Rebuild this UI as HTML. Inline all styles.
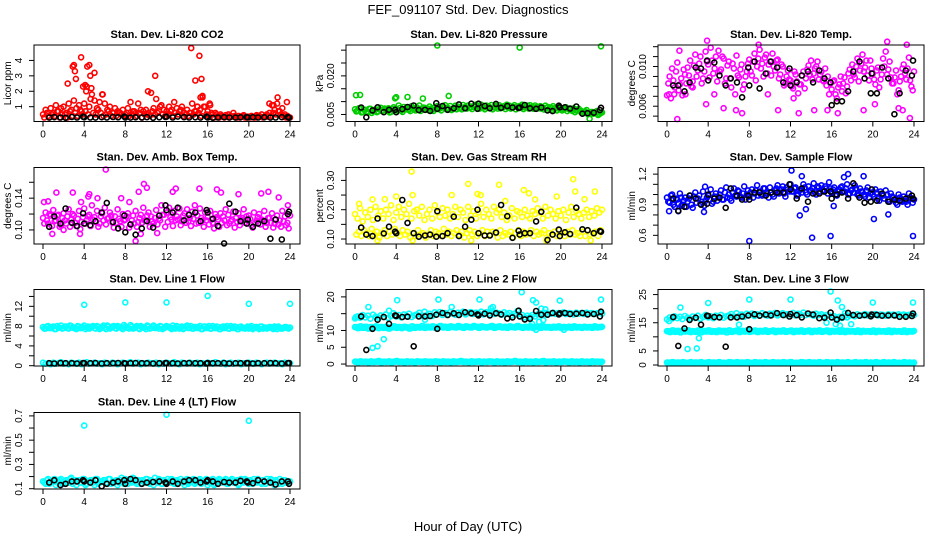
<!DOCTYPE html>
<html><head><meta charset="utf-8"><title>FEF_091107 Std. Dev. Diagnostics</title>
<style>
html,body{margin:0;padding:0;background:#fff;}
svg{display:block;font-family:"Liberation Sans",Arial,sans-serif;}
</style></head>
<body>
<svg id="chart" width="936" height="540" viewBox="0 0 936 540" xmlns="http://www.w3.org/2000/svg">
<rect x="0" y="0" width="936" height="540" fill="#fff"/>
<text x="468" y="14" text-anchor="middle" font-size="13">FEF_091107  Std. Dev. Diagnostics</text>
<text x="468" y="531" text-anchor="middle" font-size="13">Hour of Day (UTC)</text>
<g id="panels"></g>
</svg>
<script>
// ---------- shared time grids ----------
const gridA = [0,0.25,0.5,0.75,1,1.25,1.5,1.75,2,2.25,2.5,2.75,3,3.25,3.5,3.75,4,4.25,4.5,4.75,5,5.25,5.5,5.75,6,6.25,6.5,6.75,7,7.25,7.5,7.75,8,8.25,8.5,8.75,9,9.25,9.5,9.75,10,10.25,10.5,10.75,11,11.25,11.5,11.75,12,12.25,12.5,12.75,13,13.25,13.5,13.75,14,14.25,14.5,14.75,15,15.25,15.5,15.75,16,16.25,16.5,16.75,17,17.25,17.5,17.75,18,18.25,18.5,18.75,19,19.25,19.5,19.75,20,20.25,20.5,20.75,21,21.25,21.5,21.75,22,22.25,22.5,22.75,23,23.25,23.5,23.75,24];
const gridB = [0.125,0.375,0.625,0.875,1.125,1.375,1.625,1.875,2.125,2.375,2.625,2.875,3.125,3.375,3.625,3.875,4.125,4.375,4.625,4.875,5.125,5.375,5.625,5.875,6.125,6.375,6.625,6.875,7.125,7.375,7.625,7.875,8.125,8.375,8.625,8.875,9.125,9.375,9.625,9.875,10.125,10.375,10.625,10.875,11.125,11.375,11.625,11.875,12.125,12.375,12.625,12.875,13.125,13.375,13.625,13.875,14.125,14.375,14.625,14.875,15.125,15.375,15.625,15.875,16.125,16.375,16.625,16.875,17.125,17.375,17.625,17.875,18.125,18.375,18.625,18.875,19.125,19.375,19.625,19.875,20.125,20.375,20.625,20.875,21.125,21.375,21.625,21.875,22.125,22.375,22.625,22.875,23.125,23.375,23.625,23.875];
const blackHours = [0.6,1.1,1.7,2.2,2.8,3.3,3.9,4.0,4.6,5.1,5.7,6.2,6.8,7.3,7.9,8.0,8.5,9.0,9.6,10.1,10.7,11.3,11.9,12.0,12.6,13.1,13.7,14.2,14.8,15.3,15.9,16.0,16.5,17.0,17.6,18.1,18.7,19.2,19.8,19.9,20.4,20.9,21.5,22.1,22.6,23.2,23.8,23.9];
const xTicks = [0,4,8,12,16,20,24];

// ---------- CO2 ----------
const co2A = [0.5,0.8,0.4,0.9,0.6,1.1,0.7,0.9,1.0,0.6,1.2,0.8,1.4,0.9,1.1,0.7,1.2,2.3,1.0,1.8,1.4,0.9,1.3,1.8,1.2,0.8,1.0,0.6,0.9,0.7,0.6,0.8,0.5,0.9,1.3,0.7,0.6,1.2,0.8,0.7,0.8,0.6,1.9,0.9,1.5,0.7,1.1,0.8,0.7,1.0,0.8,1.3,0.9,0.7,1.0,0.6,0.8,0.6,1.2,0.7,1.0,0.8,1.6,1.0,0.7,1.1,0.5,0.6,0.4,0.5,0.35,0.45,0.5,0.4,0.6,0.35,0.4,0.35,0.45,0.3,0.35,0.4,0.3,0.45,0.4,0.5,0.35,0.5,0.6,1.1,0.8,1.2,0.7,0.9,0.5,0.4,0.3];
const co2B = [0.3,0.6,0.3,0.5,0.4,0.7,0.3,0.5,0.5,0.3,0.7,0.4,0.6,0.4,0.8,0.5,0.7,0.5,1.5,0.6,0.5,0.8,0.6,0.4,0.5,0.7,0.4,0.6,0.4,0.6,0.5,0.4,0.6,0.4,0.5,0.7,0.4,0.6,0.3,0.5,0.5,0.4,0.7,0.5,0.6,1.0,0.5,0.4,0.5,0.7,0.4,0.6,0.5,0.8,0.4,0.5,0.4,0.6,0.5,0.7,0.6,0.4,1.0,0.5,0.4,0.6,0.3,0.5,0.3,0.4,0.3,0.35,0.3,0.35,0.4,0.3,0.3,0.4,0.3,0.35,0.3,0.35,0.3,0.4,0.35,0.3,0.4,0.35,0.4,0.6,0.5,0.7,0.5,0.4,0.3,0.3];
const co2OutH = [2.4,2.9,3.0,3.1,3.2,3.7,3.9,4.1,4.3,4.5,4.6,4.7,4.2,5.0,10.9,10.2,14.4,14.8,15.2,15.4,15.3,15.5,15.0,22.8,23.7,16.2,5.8,22.0,22.4];
const co2OutV = [2.5,3.6,3.7,3.3,2.8,4.2,2.3,2.4,3.6,3.7,3.0,2.2,2.0,3.2,3.0,2.0,4.8,2.7,4.3,2.8,1.6,1.7,1.0,1.6,1.3,1.2,1.8,1.2,1.1];
const co2Blk = [0.3,0.32,0.3,0.28,0.33,0.3,0.35,0.31,0.3,0.29,0.32,0.3,0.33,0.31,0.36,0.3,0.29,0.31,0.3,0.32,0.28,0.31,0.33,0.35,0.3,0.36,0.32,0.3,0.31,0.29,0.35,0.3,0.28,0.3,0.32,0.3,0.29,0.31,0.33,0.3,0.32,0.3,0.31,0.29,0.3,0.32,0.33,0.28];

// ---------- Pressure ----------
const presA = [0.007,0.0065,0.0075,0.006,0.0068,0.0058,0.0072,0.0063,0.007,0.0062,0.0076,0.0065,0.0069,0.0074,0.006,0.0078,0.0072,0.0085,0.0066,0.0079,0.0075,0.0068,0.0082,0.0071,0.0078,0.0085,0.0072,0.0076,0.0074,0.0081,0.0069,0.0077,0.0082,0.0073,0.0079,0.0086,0.0076,0.0083,0.0072,0.0084,0.0081,0.0076,0.0087,0.0079,0.0085,0.0078,0.0083,0.0088,0.0082,0.0088,0.0077,0.0085,0.0081,0.0087,0.0078,0.0084,0.0086,0.0079,0.0083,0.0088,0.0084,0.0077,0.0086,0.0081,0.0083,0.0088,0.0078,0.0084,0.0086,0.008,0.0085,0.0079,0.0082,0.0077,0.0084,0.0079,0.0077,0.0082,0.0073,0.0078,0.0075,0.007,0.0078,0.0072,0.007,0.0074,0.0066,0.0072,0.0064,0.0058,0.0067,0.0056,0.006,0.0054,0.0063,0.0052,0.0058];
const presB = [0.0062,0.0074,0.0058,0.0068,0.0061,0.0072,0.0056,0.0066,0.0059,0.007,0.0064,0.0073,0.0064,0.0058,0.0071,0.0066,0.0065,0.0075,0.006,0.007,0.0069,0.0063,0.0074,0.0066,0.007,0.0064,0.0077,0.0068,0.0067,0.0073,0.0064,0.0071,0.0071,0.0066,0.0078,0.007,0.0072,0.0067,0.0076,0.007,0.0074,0.007,0.0078,0.0073,0.0076,0.0071,0.0079,0.0074,0.0073,0.0079,0.007,0.0076,0.0075,0.007,0.0078,0.0073,0.0074,0.0078,0.0071,0.0077,0.0073,0.0079,0.007,0.0075,0.0076,0.0071,0.0078,0.0073,0.0077,0.0072,0.0079,0.0074,0.0073,0.0069,0.0076,0.0071,0.0068,0.0074,0.0066,0.0071,0.0066,0.0071,0.0063,0.0068,0.0064,0.0059,0.0067,0.0062,0.0055,0.0061,0.0052,0.0058,0.0053,0.0059,0.0048,0.0056];
const presOutH = [0.1,0.5,8.0,16.0,23.9,9.1,5.1,4.0,6.6,3.9,22.8];
const presOutV = [0.0125,0.0126,0.0318,0.031,0.0315,0.0122,0.0118,0.0117,0.0112,0.0113,0.0033];
const presBlk = [0.0077,0.0039,0.0066,0.0078,0.0059,0.0068,0.0068,0.0059,0.0071,0.0079,0.0085,0.0067,0.0068,0.0064,0.0094,0.0072,0.0083,0.0068,0.0074,0.0089,0.0074,0.0092,0.0072,0.0092,0.0083,0.0074,0.0091,0.0076,0.0083,0.0077,0.0075,0.0077,0.0087,0.0074,0.0072,0.0077,0.0066,0.0063,0.0084,0.0078,0.0078,0.0073,0.0081,0.0053,0.0055,0.0057,0.0067,0.0076];

// ---------- Li-820 Temp ----------
const tempA = [0.0071,0.0090,0.0098,0.0079,0.0104,0.0082,0.0071,0.0092,0.0099,0.0106,0.0085,0.0112,0.0096,0.0110,0.0088,0.0115,0.0102,0.0119,0.0093,0.0110,0.0116,0.0097,0.0108,0.0088,0.0105,0.0079,0.0098,0.0111,0.0089,0.0102,0.0082,0.0095,0.0107,0.0091,0.0113,0.0100,0.0117,0.0103,0.0109,0.0093,0.0105,0.0113,0.0096,0.0107,0.0092,0.0100,0.0083,0.0096,0.0086,0.0078,0.0092,0.0073,0.0082,0.0095,0.0088,0.0101,0.0106,0.0093,0.0100,0.0087,0.0095,0.0085,0.0081,0.0072,0.0077,0.0086,0.0068,0.0082,0.0075,0.0089,0.0080,0.0097,0.0102,0.0089,0.0108,0.0096,0.0112,0.0099,0.0091,0.0106,0.0093,0.0082,0.0099,0.0087,0.0108,0.0115,0.0097,0.0089,0.0083,0.0096,0.0076,0.0090,0.0102,0.0087,0.0109,0.0080,0.0095];
const tempB = [0.0083,0.0068,0.0086,0.0095,0.0076,0.0088,0.0097,0.0083,0.0091,0.0080,0.0101,0.0090,0.0103,0.0083,0.0095,0.0105,0.0089,0.0106,0.0098,0.0085,0.0095,0.0110,0.0083,0.0101,0.0088,0.0103,0.0072,0.0091,0.0097,0.0077,0.0090,0.0103,0.0095,0.0105,0.0086,0.0108,0.0098,0.0090,0.0112,0.0102,0.0091,0.0100,0.0106,0.0088,0.0102,0.0081,0.0090,0.0087,0.0080,0.0095,0.0085,0.0082,0.0091,0.0078,0.0097,0.0092,0.0087,0.0098,0.0105,0.0092,0.0086,0.0098,0.0090,0.0083,0.0085,0.0072,0.0079,0.0090,0.0083,0.0073,0.0093,0.0086,0.0092,0.0100,0.0085,0.0103,0.0095,0.0106,0.0086,0.0098,0.0087,0.0096,0.0079,0.0092,0.0100,0.0092,0.0105,0.0083,0.0089,0.0072,0.0085,0.0098,0.0093,0.0098,0.0086,0.0076];
const tempOutH = [0.2,0.7,1.0,1.2,1.8,2.5,3.8,4.6,5.5,6.7,7.3,9.8,10.8,12.3,12.8,14.3,15.6,16.6,19.1,20.2,21.4,22.5,22.9,23.3,23.6,3.9,8.9];
const tempOutV = [0.0072,0.0072,0.0047,0.0116,0.0072,0.0079,0.0062,0.0072,0.0058,0.0056,0.0053,0.0072,0.0056,0.0068,0.0053,0.0056,0.0056,0.0053,0.0056,0.0062,0.0125,0.0058,0.0056,0.0122,0.0048,0.0126,0.0122];
const tempBlk = [0.0081,0.0081,0.0075,0.0084,0.0099,0.0098,0.0106,0.0086,0.0104,0.0091,0.0081,0.0088,0.0084,0.0069,0.0099,0.0081,0.0105,0.0078,0.0093,0.0105,0.0099,0.0084,0.0098,0.0081,0.0084,0.0091,0.0095,0.0084,0.0096,0.0088,0.0084,0.0061,0.0065,0.0065,0.0075,0.0095,0.0105,0.0088,0.0073,0.0093,0.0073,0.0099,0.0088,0.0052,0.0073,0.0096,0.0091,0.0106];

// ---------- Amb. Box Temp ----------
const ambA = [0.115,0.122,0.108,0.118,0.125,0.112,0.119,0.106,0.121,0.108,0.126,0.113,0.118,0.105,0.124,0.11,0.127,0.112,0.119,0.131,0.116,0.124,0.108,0.121,0.128,0.114,0.122,0.109,0.117,0.126,0.111,0.12,0.113,0.121,0.107,0.118,0.124,0.11,0.119,0.128,0.112,0.122,0.117,0.108,0.125,0.114,0.131,0.119,0.122,0.128,0.113,0.124,0.117,0.127,0.111,0.121,0.126,0.115,0.123,0.131,0.118,0.127,0.112,0.122,0.116,0.124,0.109,0.12,0.113,0.121,0.117,0.126,0.119,0.111,0.123,0.115,0.121,0.113,0.126,0.117,0.118,0.106,0.122,0.112,0.12,0.113,0.124,0.109,0.115,0.121,0.108,0.118,0.112,0.124,0.117,0.109,0.118];
const ambB = [0.108,0.112,0.12,0.105,0.111,0.118,0.104,0.115,0.112,0.117,0.104,0.12,0.109,0.114,0.101,0.116,0.108,0.117,0.105,0.113,0.11,0.104,0.117,0.112,0.107,0.115,0.118,0.103,0.109,0.114,0.104,0.112,0.117,0.103,0.112,0.108,0.104,0.115,0.109,0.112,0.118,0.104,0.111,0.115,0.107,0.112,0.119,0.104,0.11,0.116,0.105,0.112,0.113,0.106,0.118,0.109,0.111,0.105,0.114,0.108,0.109,0.115,0.104,0.112,0.107,0.113,0.102,0.116,0.104,0.109,0.112,0.106,0.108,0.113,0.103,0.11,0.106,0.115,0.109,0.112,0.114,0.103,0.109,0.116,0.107,0.112,0.104,0.115,0.109,0.103,0.113,0.107,0.104,0.111,0.106,0.102];
const ambOutH = [0.1,0.5,1.3,2.9,3.7,4.5,4.4,5.3,0.9,3.6,7.6,8.4,9.3,9.8,10.1,12.9,12.6,15.2,16.9,17.3,19.0,21.2,21.9,22.9,23.8,6.1,9.0,2.0,11.1,9.5];
const ambOutV = [0.135,0.136,0.147,0.147,0.135,0.145,0.142,0.14,0.095,0.095,0.14,0.135,0.148,0.158,0.153,0.152,0.148,0.152,0.151,0.147,0.145,0.146,0.148,0.141,0.131,0.176,0.086,0.1,0.096,0.095];
const ambBlk = [0.104,0.117,0.108,0.127,0.109,0.105,0.121,0.108,0.106,0.111,0.122,0.134,0.11,0.102,0.118,0.097,0.107,0.094,0.102,0.111,0.103,0.118,0.131,0.125,0.122,0.128,0.112,0.119,0.122,0.111,0.125,0.122,0.114,0.105,0.083,0.133,0.123,0.111,0.108,0.113,0.104,0.108,0.111,0.089,0.113,0.088,0.12,0.123];

// ---------- Gas Stream RH ----------
const rhA = [0.185,0.17,0.205,0.16,0.19,0.175,0.2,0.165,0.21,0.18,0.195,0.17,0.2,0.185,0.215,0.165,0.19,0.21,0.175,0.2,0.185,0.22,0.17,0.195,0.2,0.18,0.21,0.165,0.185,0.2,0.17,0.215,0.19,0.175,0.205,0.18,0.2,0.17,0.185,0.21,0.175,0.2,0.19,0.165,0.21,0.18,0.195,0.17,0.19,0.22,0.175,0.2,0.185,0.17,0.21,0.19,0.2,0.175,0.19,0.165,0.18,0.205,0.17,0.195,0.19,0.175,0.2,0.18,0.17,0.195,0.185,0.205,0.19,0.17,0.21,0.18,0.2,0.185,0.17,0.195,0.18,0.2,0.165,0.19,0.21,0.175,0.195,0.185,0.17,0.19,0.2,0.175,0.195,0.18,0.205,0.19,0.2];
const rhB = [0.115,0.125,0.11,0.13,0.12,0.11,0.135,0.115,0.125,0.105,0.12,0.13,0.11,0.125,0.115,0.135,0.12,0.11,0.13,0.115,0.125,0.105,0.12,0.11,0.13,0.115,0.12,0.105,0.115,0.13,0.11,0.125,0.12,0.11,0.135,0.115,0.125,0.11,0.12,0.13,0.115,0.125,0.105,0.12,0.13,0.115,0.125,0.11,0.12,0.13,0.11,0.125,0.115,0.125,0.12,0.105,0.13,0.11,0.12,0.115,0.125,0.105,0.12,0.13,0.11,0.125,0.115,0.12,0.13,0.11,0.125,0.115,0.12,0.13,0.105,0.12,0.115,0.125,0.11,0.13,0.12,0.11,0.125,0.115,0.13,0.115,0.12,0.11,0.125,0.11,0.13,0.115,0.12,0.125,0.11,0.13];
const rhOutH = [0.4,1.7,2.9,4.0,5.5,5.6,9.4,11.0,11.9,12.2,14.0,14.6,16.4,16.9,17.5,19.6,21.2,21.4,22.3,23.3,5.6,11.3,18.6,2.2,22.9];
const rhOutV = [0.22,0.235,0.236,0.245,0.33,0.25,0.25,0.288,0.254,0.25,0.285,0.23,0.267,0.256,0.235,0.245,0.304,0.262,0.236,0.262,0.095,0.095,0.095,0.095,0.095];
const rhBlk = [0.139,0.115,0.11,0.17,0.119,0.142,0.125,0.12,0.233,0.155,0.12,0.108,0.112,0.115,0.108,0.195,0.11,0.12,0.176,0.11,0.142,0.166,0.2,0.12,0.112,0.112,0.122,0.216,0.178,0.104,0.128,0.115,0.12,0.12,0.16,0.193,0.097,0.115,0.132,0.11,0.123,0.117,0.207,0.133,0.13,0.12,0.127,0.125];

// ---------- Sample Flow ----------
const sfA = [0.97,0.92,1.0,0.88,0.95,1.01,0.9,0.97,0.93,0.99,0.87,1.02,0.96,0.91,1.03,0.94,0.99,1.05,0.93,1.01,0.97,1.04,0.95,1.07,1.0,0.94,1.06,0.98,1.03,0.97,1.08,1.0,0.98,1.05,1.01,1.09,1.03,0.99,1.06,1.01,1.07,1.0,1.04,1.09,1.02,1.08,0.98,1.05,1.1,1.03,1.07,1.0,1.05,1.1,1.02,1.08,1.04,1.11,1.0,1.07,1.09,1.03,1.06,1.12,1.02,1.07,0.99,1.05,1.08,1.03,1.1,1.01,1.05,1.09,1.0,1.06,1.03,0.98,1.07,1.01,1.0,1.05,0.96,1.03,0.99,1.04,0.95,1.01,0.97,0.92,1.0,0.94,0.98,0.93,1.01,0.96,0.95];
const sfB = [0.93,0.99,0.9,0.96,0.91,0.97,0.94,0.88,0.96,0.9,0.98,0.92,0.99,0.93,0.89,0.97,0.95,0.91,0.98,0.94,1.0,0.95,1.02,0.97,0.96,1.02,0.99,1.04,0.98,1.01,0.95,1.04,1.02,0.97,1.04,0.99,1.0,1.06,1.02,0.97,1.02,0.98,1.06,1.01,1.05,1.01,1.07,1.03,1.03,1.06,0.99,1.04,1.02,1.07,1.0,1.04,1.06,1.02,1.08,1.03,1.04,1.08,1.01,1.06,1.05,1.0,1.03,1.07,1.03,1.06,1.0,1.04,1.02,1.06,0.99,1.03,1.0,1.04,0.97,1.02,0.98,1.02,0.94,1.0,0.96,1.0,0.93,0.98,0.95,0.9,0.97,0.93,0.94,0.9,0.97,0.92];
const sfOutH = [0.2,1.1,3.6,8.0,12.1,12.9,13.5,14.1,15.9,16.2,17.2,17.6,19.1,20.1,21.5,23.9,13.1,3.7,1.4];
const sfOutV = [0.837,0.837,0.83,0.544,1.236,0.795,0.856,0.577,0.593,0.888,1.17,1.2,1.18,0.76,0.805,0.593,1.18,1.077,0.89];
const sfBlk = [0.96,0.84,0.88,0.99,0.96,0.9,0.91,1.0,0.96,0.97,0.87,1.06,0.99,0.95,0.99,0.95,1.02,1.02,0.99,1.02,1.02,1.02,1.1,1.05,0.96,1.06,0.93,1.01,1.01,1.03,1.03,0.96,1.0,1.02,0.96,1.11,0.97,0.92,0.93,1.05,0.94,1.01,0.93,0.95,0.94,0.96,0.99,0.96];

// ---------- Line 1 Flow ----------
const l1A = [7.8,7.5,8.0,7.6,7.9,7.4,7.7,8.1,7.6,7.9,7.5,8.0,7.7,7.4,7.9,7.6,8.1,7.7,7.5,7.9,7.6,8.0,7.4,7.8,7.7,8.1,7.5,7.9,7.6,8.0,7.8,7.4,7.9,7.7,8.2,7.5,7.8,7.6,8.0,7.7,7.4,7.9,7.6,8.1,7.7,7.5,7.9,7.6,8.0,7.8,7.4,7.7,8.0,7.5,7.9,7.6,8.1,7.7,7.5,7.8,7.6,8.0,7.4,7.9,7.7,7.5,8.0,7.6,7.8,7.4,7.9,7.7,7.5,8.0,7.6,7.8,7.4,7.9,7.6,7.7,7.5,8.0,7.6,7.8,7.4,7.9,7.7,7.5,7.8,7.6,7.9,7.4,7.7,7.5,7.8,7.6,7.7];
const l1B = [7.5,7.9,7.6,7.8,7.4,8.0,7.7,7.5,7.9,7.6,8.1,7.7,7.5,8.0,7.6,7.8,7.4,7.9,7.7,8.0,7.5,7.8,7.6,8.1,7.4,7.9,7.7,8.0,7.5,7.8,7.6,8.2,7.7,7.5,7.9,7.6,8.0,7.4,7.8,7.7,8.1,7.5,7.9,7.6,7.8,8.0,7.4,7.7,7.9,7.6,8.1,7.5,7.8,7.7,7.4,7.9,7.6,8.0,7.5,7.8,7.7,7.4,7.9,7.6,8.0,7.5,7.7,7.9,7.4,7.8,7.6,8.0,7.5,7.7,7.9,7.4,7.8,7.6,7.5,7.9,7.7,7.4,7.8,7.6,7.9,7.5,7.7,7.6,7.8,7.4,7.7,7.9,7.5,7.6,7.8,7.5];
const l1Low = [0.6,0.4,0.5,0.3,0.6,0.4,0.5,0.7,0.4,0.5,0.3,0.6,0.5,0.4,0.6,0.3,0.5,0.7,0.4,0.5,0.6,0.4,0.5,0.3,0.6,0.5,0.4,0.6,0.5,0.3,0.5,0.6,0.4,0.5,0.7,0.4,0.5,0.6,0.3,0.5,0.4,0.6,0.5,0.4,0.6,0.3,0.5,0.4,0.6,0.5,0.4,0.7,0.5,0.3,0.6,0.5,0.4,0.6,0.5,0.4,0.6,0.3,0.5,0.4,0.6,0.5,0.4,0.7,0.5,0.4,0.6,0.3,0.5,0.6,0.4,0.5,0.6,0.3,0.5,0.4,0.6,0.5,0.4,0.6,0.5,0.3,0.5,0.6,0.4,0.5,0.6,0.4,0.5,0.3,0.6,0.5,0.5];
const l1OutH = [4.0,8.0,12.0,16.0,20.0,24.0];
const l1OutV = [12.3,12.8,12.8,14.1,12.5,12.5];
const l1Blk = [0.5,0.45,0.55,0.5,0.5,0.45,0.55,0.5,0.5,0.55,0.45,0.5,0.5,0.55,0.5,0.45,0.5,0.55,0.5,0.5,0.45,0.5,0.55,0.5,0.5,0.45,0.5,0.55,0.5,0.5,0.45,0.55,0.5,0.5,0.55,0.45,0.5,0.5,0.55,0.5,0.45,0.5,0.5,0.55,0.5,0.45,0.5,0.55];

// ---------- Line 2 Flow ----------
const l2Mid = [11.0,10.7,11.2,10.8,11.1,10.6,11.0,10.9,11.2,10.7,11.0,10.8,11.1,10.6,10.9,11.2,10.8,11.0,10.7,11.1,10.9,10.6,11.2,10.8,11.0,10.9,11.3,10.8,11.1,10.9,11.2,10.8,11.0,11.3,10.9,11.1,10.8,11.2,11.0,10.9,11.3,11.0,10.8,11.2,11.0,10.9,11.3,11.1,10.8,11.2,11.0,10.9,11.1,11.3,10.8,11.0,11.2,10.9,11.1,10.8,11.2,11.0,10.9,11.3,11.0,10.8,11.1,10.9,11.2,10.8,11.0,11.1,10.8,11.2,10.9,11.0,10.8,11.1,10.9,11.2,10.8,11.0,10.9,11.1,10.8,11.2,10.9,11.0,10.8,11.1,10.9,11.0,10.8,11.2,10.9,11.0,11.1];
const l2Up = [13.6,14.2,13.8,14.6,13.9,14.4,13.5,14.7,14.1,13.8,14.5,14.0,14.8,13.7,14.3,15.1,14.2,14.6,13.9,14.8,14.3,15.0,14.0,14.5,14.8,15.3,14.4,15.6,14.6,15.0,14.3,15.4,14.9,15.5,14.6,15.2,14.8,15.5,15.0,14.7,15.3,15.0,15.6,14.8,15.2,15.5,14.9,15.3,15.1,15.6,14.8,15.4,15.0,15.7,14.9,15.3,15.1,14.7,15.4,14.9,15.2,14.5,15.0,14.8,14.2,14.6,13.9,14.4,14.0,14.6,14.2,14.8,15.0,14.6,15.2,14.8,15.0,15.3,14.9,15.2,15.0,15.4,14.9,15.2,15.1,14.8,15.3,15.0,15.2,14.9,15.3,15.0,15.2,14.9,15.1,15.3,15.0];
const l2Low = [0.7,0.5,0.8,0.6,0.7,0.5,0.8,0.6,0.7,0.9,0.5,0.7,0.6,0.8,0.5,0.7,0.9,0.6,0.7,0.5,0.8,0.6,0.7,0.5,0.8,0.7,0.6,0.8,0.5,0.7,0.6,0.8,0.7,0.5,0.8,0.6,0.7,0.5,0.8,0.6,0.7,0.9,0.6,0.7,0.5,0.8,0.6,0.7,0.8,0.5,0.7,0.6,0.8,0.7,0.5,0.8,0.6,0.7,0.5,0.8,0.6,0.7,0.9,0.6,0.7,0.5,0.8,0.6,0.7,0.5,0.8,0.6,0.7,0.9,0.5,0.7,0.6,0.8,0.5,0.7,0.6,0.8,0.7,0.5,0.8,0.6,0.7,0.5,0.8,0.6,0.7,0.5,0.8,0.6,0.7,0.6,0.7];
const l2OutH = [1.3,1.7,2.2,2.8,3.3,4.1,8.1,9.4,12.1,13.4,13.2,15.8,16.2,17.3,17.6,18.1,18.5,17.9,18.3,17.2,19.9,23.9,6.8,20.3,17.6,0.1];
const l2OutV = [17.0,4.8,5.3,7.4,15.9,19.0,19.2,17.0,19.2,17.0,16.6,15.8,21.4,19.0,18.3,16.5,16.3,12.6,13.1,12.0,18.9,19.2,13.2,10.2,10.2,14.0];
const l2Blk = [14.2,4.2,10.5,13.2,14.0,12.0,14.5,14.3,14.0,14.1,5.3,14.2,14.2,14.3,14.7,10.5,15.2,14.6,15.1,14.6,15.4,15.1,14.8,14.5,15.0,14.5,15.1,14.8,13.6,13.9,15.9,14.2,13.3,13.5,15.8,14.7,14.7,15.2,14.8,15.1,15.2,14.9,15.0,15.2,14.8,14.9,14.2,15.6];

// ---------- Line 3 Flow ----------
const l3Mid = [12.0,11.7,12.3,11.8,12.1,11.6,12.2,11.9,12.3,11.7,12.0,11.8,12.2,11.6,12.1,11.9,12.3,11.8,12.0,11.7,12.2,11.9,12.1,11.6,12.3,11.8,12.0,12.2,11.7,12.1,11.9,12.3,11.8,12.0,12.2,11.7,12.1,11.9,12.3,11.8,12.0,12.2,11.7,12.1,11.9,12.3,11.8,12.0,12.2,11.7,12.1,11.9,12.3,11.8,12.0,12.2,11.7,12.1,11.9,12.3,11.8,12.0,12.2,11.7,12.1,11.9,12.0,11.8,12.2,11.7,12.1,11.9,12.0,11.8,12.2,11.7,12.1,11.9,12.0,11.8,12.2,11.7,12.1,11.9,12.0,11.8,12.2,11.7,12.1,11.9,12.0,11.8,12.2,11.7,12.0,11.9,12.1];
const l3Up = [16.2,16.9,16.5,17.3,16.6,17.1,16.3,17.4,16.8,16.5,17.2,16.7,17.5,16.4,17.0,17.8,16.9,17.3,16.6,17.5,17.0,17.8,16.8,17.3,17.6,18.1,17.2,18.4,17.4,17.9,17.1,18.2,17.7,18.3,17.4,18.0,17.6,18.4,17.8,17.5,18.2,17.8,18.5,17.6,18.0,18.4,17.7,18.1,17.9,18.5,17.6,18.2,17.8,18.6,17.7,18.1,17.9,17.5,18.2,17.7,18.0,17.3,17.8,17.6,16.9,17.3,16.6,17.1,16.7,17.3,16.9,17.5,17.8,17.3,18.0,17.5,17.7,18.1,17.6,17.9,17.7,18.1,17.6,17.9,17.8,17.5,18.0,17.7,17.9,17.6,18.0,17.7,17.9,17.6,17.8,18.0,17.7];
const l3Low = [0.9,0.6,1.0,0.7,0.9,0.6,1.0,0.8,0.7,1.0,0.6,0.9,0.7,1.0,0.6,0.8,1.0,0.7,0.9,0.6,1.0,0.7,0.8,0.6,1.0,0.9,0.7,1.0,0.6,0.9,0.7,1.0,0.8,0.6,1.0,0.7,0.9,0.6,1.0,0.7,0.8,1.0,0.7,0.9,0.6,1.0,0.7,0.9,1.0,0.6,0.8,0.7,1.0,0.9,0.6,1.0,0.7,0.9,0.6,1.0,0.7,0.8,1.0,0.7,0.9,0.6,1.0,0.7,0.9,0.6,1.0,0.7,0.8,1.0,0.6,0.9,0.7,1.0,0.6,0.9,0.7,1.0,0.8,0.6,1.0,0.7,0.9,0.6,1.0,0.7,0.8,0.6,1.0,0.7,0.9,0.7,0.9];
const l3OutH = [1.3,2.0,2.9,3.1,4.0,8.0,12.0,15.9,16.6,17.0,17.3,20.0,23.9,7.0,16.4,16.8,17.9,15.5,0.2];
const l3OutV = [20.4,5.7,5.9,9.5,22.0,23.2,23.2,26.1,22.9,20.6,18.4,22.2,22.2,14.3,14.5,14.0,14.5,15.0,15.6];
const l3Blk = [17.0,6.8,13.0,16.0,16.8,14.3,17.5,17.4,17.0,16.9,6.5,16.9,16.9,17.2,17.6,12.7,18.0,17.5,17.9,17.6,18.4,17.7,17.2,18.1,17.7,16.9,18.3,17.9,16.6,16.8,18.6,16.9,16.1,16.9,18.5,17.7,17.5,17.7,17.3,17.9,17.8,17.5,17.6,17.6,17.1,17.1,17.4,18.3];

// ---------- Line 4 (LT) Flow ----------
const l4A = [0.16,0.14,0.18,0.15,0.17,0.13,0.16,0.18,0.14,0.17,0.15,0.19,0.16,0.13,0.17,0.15,0.18,0.14,0.16,0.17,0.13,0.18,0.15,0.16,0.17,0.14,0.18,0.15,0.16,0.13,0.17,0.15,0.18,0.14,0.16,0.19,0.15,0.17,0.14,0.16,0.18,0.15,0.17,0.13,0.16,0.18,0.14,0.17,0.15,0.16,0.18,0.14,0.17,0.15,0.16,0.13,0.18,0.15,0.17,0.14,0.16,0.18,0.15,0.17,0.13,0.16,0.18,0.14,0.17,0.15,0.16,0.18,0.14,0.17,0.15,0.16,0.13,0.18,0.15,0.17,0.14,0.16,0.18,0.15,0.17,0.14,0.16,0.18,0.15,0.17,0.13,0.16,0.18,0.14,0.17,0.15,0.16];
const l4B = [0.15,0.17,0.14,0.16,0.18,0.15,0.17,0.14,0.16,0.15,0.18,0.14,0.17,0.16,0.15,0.18,0.13,0.16,0.17,0.15,0.18,0.14,0.16,0.17,0.15,0.18,0.14,0.16,0.17,0.15,0.19,0.14,0.16,0.17,0.15,0.18,0.14,0.16,0.17,0.15,0.18,0.14,0.16,0.19,0.15,0.17,0.14,0.16,0.18,0.15,0.17,0.14,0.16,0.18,0.15,0.17,0.14,0.16,0.18,0.15,0.17,0.14,0.16,0.18,0.15,0.17,0.13,0.16,0.18,0.15,0.17,0.14,0.16,0.18,0.15,0.17,0.14,0.16,0.18,0.15,0.17,0.14,0.16,0.18,0.15,0.17,0.14,0.16,0.18,0.15,0.17,0.14,0.16,0.17,0.15,0.16];
const l4OutH = [4.0,12.0,20.0];
const l4OutV = [0.62,0.71,0.66];
const l4Blk = [0.15,0.17,0.13,0.14,0.16,0.16,0.17,0.16,0.15,0.17,0.12,0.14,0.15,0.16,0.17,0.14,0.18,0.17,0.14,0.15,0.155,0.16,0.15,0.14,0.16,0.14,0.16,0.17,0.17,0.15,0.16,0.17,0.16,0.14,0.155,0.15,0.15,0.165,0.16,0.15,0.145,0.17,0.16,0.15,0.135,0.16,0.16,0.14];

// ---------- panel definitions ----------
const panels = [
 {key:'co2',col:0,row:0,title:'Stan. Dev. Li-820 CO2',ylab:'Licor ppm',lo:0.04,hi:5.0,ticks:[1,2,3,4],labels:[1,2,3,4],color:'#FF0000',
  series:[[gridA,co2A],[gridB,co2B],[co2OutH,co2OutV]],blk:co2Blk},
 {key:'pressure',col:1,row:0,title:'Stan. Dev. Li-820 Pressure',ylab:'kPa',lo:0.00227,hi:0.032,ticks:[0.005,0.010,0.015,0.020,0.025,0.030],labels:[0.005,0.020],fmt:3,color:'#00CD00',
  series:[[gridA,presA],[gridB,presB],[presOutH,presOutV]],blk:presBlk},
 {key:'li820-temp',col:2,row:0,title:'Stan. Dev. Li-820 Temp.',ylab:'degrees C',lo:0.00446,hi:0.01217,ticks:[0.005,0.006,0.007,0.008,0.009,0.010,0.011,0.012],labels:[0.006,0.010],fmt:3,color:'#FF00FF',
  series:[[gridA,tempA],[gridB,tempB],[tempOutH,tempOutV]],blk:tempBlk},
 {key:'amb-box-temp',col:0,row:1,title:'Stan. Dev. Amb. Box Temp.',ylab:'degrees C',lo:0.0823,hi:0.1786,ticks:[0.10,0.12,0.14,0.16],labels:[0.10,0.14],fmt:2,color:'#FF00FF',
  series:[[gridA,ambA],[gridB,ambB],[ambOutH,ambOutV]],blk:ambBlk},
 {key:'gas-stream-rh',col:1,row:1,title:'Stan. Dev. Gas Stream RH',ylab:'percent',lo:0.083,hi:0.344,ticks:[0.10,0.15,0.20,0.25,0.30],labels:[0.10,0.20,0.30],fmt:2,color:'#FFFF00',
  series:[[gridA,rhA],[gridB,rhB],[rhOutH,rhOutV]],blk:rhBlk},
 {key:'sample-flow',col:2,row:1,title:'Stan. Dev. Sample Flow',ylab:'ml/min',lo:0.515,hi:1.265,ticks:[0.6,0.7,0.8,0.9,1.0,1.1,1.2],labels:[0.6,0.9,1.2],fmt:1,color:'#0000FF',
  series:[[gridA,sfA],[gridB,sfB],[sfOutH,sfOutV]],blk:sfBlk},
 {key:'line1-flow',col:0,row:2,title:'Stan. Dev. Line 1 Flow',ylab:'ml/min',lo:-0.06,hi:15.4,ticks:[0,2,4,6,8,10,12,14],labels:[0,4,8,12],color:'#00FFFF',
  series:[[gridA,l1A],[gridB,l1B],[gridA,l1Low],[l1OutH,l1OutV]],blk:l1Blk},
 {key:'line2-flow',col:1,row:2,title:'Stan. Dev. Line 2 Flow',ylab:'ml/min',lo:-0.58,hi:22.2,ticks:[0,5,10,15,20],labels:[0,5,10,20],color:'#00FFFF',
  series:[[gridA,l2Mid],[gridB,l2Mid],[gridA,l2Up],[gridA,l2Low],[gridB,l2Low],[l2OutH,l2OutV]],blk:l2Blk},
 {key:'line3-flow',col:2,row:2,title:'Stan. Dev. Line 3 Flow',ylab:'ml/min',lo:-0.35,hi:26.8,ticks:[0,5,10,15,20,25],labels:[0,5,15,25],color:'#00FFFF',
  series:[[gridA,l3Mid],[gridB,l3Mid],[gridA,l3Up],[gridA,l3Low],[gridB,l3Low],[l3OutH,l3OutV]],blk:l3Blk},
 {key:'line4-flow',col:0,row:3,title:'Stan. Dev. Line 4 (LT) Flow',ylab:'ml/min',lo:0.0975,hi:0.728,ticks:[0.1,0.2,0.3,0.4,0.5,0.6,0.7],labels:[0.1,0.3,0.5,0.7],fmt:1,color:'#00FFFF',
  series:[[gridA,l4A],[gridB,l4B],[l4OutH,l4OutV]],blk:l4Blk}
];

const NS = 'http://www.w3.org/2000/svg';
const colLeft = [34,346,658];
const rowTop = [45,167.5,289.5,412.5];
const BOXW = 266, BOXH = 76.5;
const root = document.getElementById('panels');

function mk(tag, attrs, parent){
  const e = document.createElementNS(NS, tag);
  for (const k in attrs) e.setAttribute(k, attrs[k]);
  parent.appendChild(e);
  return e;
}
function fmtNum(v, d){ return d ? v.toFixed(d) : String(v); }

panels.forEach(p => {
  const L = colLeft[p.col], T = rowTop[p.row], B = T + BOXH;
  const xScale = h => L + 9 + h * (247/24);
  const yScale = v => B - (v - p.lo) / (p.hi - p.lo) * BOXH;

  const g = mk('g', {}, root);
  
  

  const title = mk('text', {x: L + BOXW/2, y: T - 7, 'text-anchor':'middle', 'font-size':'11', 'font-weight':'bold'}, g);
  title.textContent = p.title;
  
  

  const pts = mk('g', {fill:'none', 'stroke-width':'1.6'}, g);
  
  
  p.series.forEach(([xs, ys]) => {
    const n = Math.min(xs.length, ys.length);
    for (let i = 0; i < n; i++) {
      const c = mk('circle', {cx: xScale(xs[i]).toFixed(1), cy: yScale(ys[i]).toFixed(1), r: '2.5', stroke: p.color}, pts);
      
      
    }
  });
  const n2 = Math.min(blackHours.length, p.blk.length);
  for (let i = 0; i < n2; i++) {
    const c = mk('circle', {cx: xScale(blackHours[i]).toFixed(1), cy: yScale(p.blk[i]).toFixed(1), r: '2.5', stroke: '#000'}, pts);
    
    
  }

  const box = mk('rect', {x: L, y: T, width: BOXW, height: BOXH, fill: 'none', stroke: '#000', 'stroke-width': '1'}, g);
  
  

  const xa = mk('g', {'font-size':'10', 'text-anchor':'middle'}, g);
  
  
  xTicks.forEach(t => {
    const x = xScale(t);
    mk('line', {x1: x, x2: x, y1: B, y2: B + 5, stroke: '#000'}, xa);
    const tx = mk('text', {x: x, y: B + 16}, xa);
    tx.textContent = String(t);
    
    
  });

  const ya = mk('g', {'font-size':'10', 'text-anchor':'middle'}, g);
  
  
  p.ticks.forEach(t => {
    const y = yScale(t);
    mk('line', {x1: L - 5, x2: L, y1: y, y2: y, stroke: '#000'}, ya);
  });
  p.labels.forEach(t => {
    const y = yScale(t);
    const tx = mk('text', {x: L - 12, y: y, transform: 'rotate(-90 ' + (L - 12) + ' ' + y + ')'}, ya);
    tx.textContent = fmtNum(t, p.fmt);
    
    
  });
  const yl = mk('text', {x: L - 23, y: T + BOXH/2, 'font-size':'10', 'text-anchor':'middle', transform: 'rotate(-90 ' + (L - 23) + ' ' + (T + BOXH/2) + ')'}, g);
  yl.textContent = p.ylab;
  
  
});
</script>
</body></html>
